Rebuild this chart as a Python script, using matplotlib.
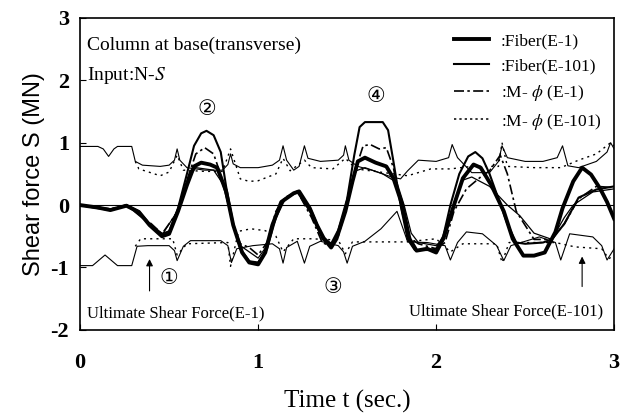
import matplotlib
matplotlib.use("Agg")
import matplotlib.pyplot as plt

# response curves: (time, shear force)
fiber_e1_t = [0, 0.1, 0.17, 0.26, 0.33, 0.39, 0.46, 0.5, 0.55, 0.6, 0.64, 0.68, 0.73, 0.77, 0.82, 0.86,
              0.91, 0.95, 1.0, 1.04, 1.08, 1.13, 1.2, 1.23, 1.29, 1.33, 1.37, 1.41, 1.44, 1.49, 1.53, 1.56,
              1.6, 1.66, 1.72, 1.76, 1.81, 1.85, 1.89, 1.95, 2.0, 2.04, 2.1, 2.15, 2.21, 2.25, 2.31, 2.38,
              2.43, 2.49, 2.55, 2.61, 2.67, 2.71, 2.77, 2.82, 2.87, 2.92, 2.96, 3.0]
fiber_e1_s = [0, -0.04, -0.08, -0.01, -0.11, -0.32, -0.5, -0.46, -0.1, 0.32, 0.62, 0.68, 0.65, 0.6, 0.22, -0.32,
              -0.76, -0.92, -0.95, -0.76, -0.32, 0.05, 0.19, 0.22, -0.05, -0.32, -0.54, -0.68, -0.54, -0.1, 0.38, 0.7,
              0.76, 0.68, 0.62, 0.43, 0, -0.54, -0.73, -0.7, -0.76, -0.54, 0, 0.43, 0.65, 0.6, 0.32, -0.1,
              -0.54, -0.81, -0.81, -0.76, -0.43, -0.05, 0.38, 0.6, 0.49, 0.27, 0.05, -0.22]

fiber_e101_t = [0, 0.1, 0.17, 0.26, 0.33, 0.39, 0.46, 0.5, 0.55, 0.6, 0.64, 0.68, 0.71, 0.75, 0.79, 0.82,
                0.86, 0.9, 0.95, 1.0, 1.05, 1.1, 1.15, 1.22, 1.3, 1.36, 1.41, 1.45, 1.5, 1.54, 1.57, 1.6,
                1.66, 1.7, 1.73, 1.76, 1.8, 1.84, 1.88, 1.95, 2.0, 2.04, 2.08, 2.13, 2.18, 2.22, 2.26, 2.3,
                2.35, 2.4, 2.45, 2.5, 2.6, 2.65, 2.72, 2.8, 2.9, 3.0]
fiber_e101_s = [0, -0.05, -0.08, 0, -0.1, -0.3, -0.46, -0.42, -0.05, 0.5, 0.95, 1.15, 1.19, 1.12, 0.85, 0.3,
                -0.3, -0.7, -0.9, -0.92, -0.7, -0.2, 0.1, 0.22, -0.1, -0.5, -0.62, -0.4, 0.1, 0.8, 1.25, 1.33,
                1.33, 1.33, 1.2, 0.7, 0, -0.55, -0.72, -0.72, -0.7, -0.5, 0, 0.5, 0.78, 0.85, 0.75, 0.5,
                0.1, -0.3, -0.6, -0.62, -0.6, -0.55, -0.3, 0.12, 0.25, 0.3]

mphi_e1_t = [0, 0.17, 0.26, 0.4, 0.46, 0.55, 0.6, 0.65, 0.7, 0.75, 0.8, 0.86, 0.9, 0.95, 1.0, 1.05,
             1.1, 1.15, 1.22, 1.3, 1.36, 1.4, 1.45, 1.5, 1.55, 1.59, 1.63, 1.68, 1.72, 1.76, 1.8, 1.84,
             1.9, 2.0, 2.05, 2.1, 2.17, 2.25, 2.3, 2.36, 2.4, 2.45, 2.55, 2.65, 2.72, 2.8, 2.9, 3.0]
mphi_e1_s = [0, -0.06, 0, -0.3, -0.46, -0.1, 0.4, 0.82, 0.92, 0.82, 0.4, -0.3, -0.62, -0.68, -0.8, -0.6,
             -0.1, 0.12, 0.22, -0.2, -0.6, -0.65, -0.5, 0, 0.6, 0.95, 0.97, 0.9, 0.92, 0.6, 0, -0.5,
             -0.62, -0.7, -0.6, -0.1, 0.26, 0.45, 0.55, 0.8, 0.5, -0.1, -0.55, -0.55, -0.3, 0.1, 0.3, 0.28]

mphi_e101_t = [0, 0.17, 0.26, 0.4, 0.46, 0.55, 0.6, 0.65, 0.7, 0.75, 0.8, 0.86, 0.9, 1.0, 1.05, 1.1,
               1.15, 1.22, 1.3, 1.36, 1.41, 1.46, 1.5, 1.55, 1.6, 1.7, 1.78, 1.82, 1.86, 1.9, 2.0, 2.05,
               2.1, 2.15, 2.2, 2.3, 2.4, 2.47, 2.55, 2.65, 2.72, 2.77, 2.88, 3.0]
mphi_e101_s = [0, -0.07, 0, -0.33, -0.48, -0.08, 0.4, 0.6, 0.58, 0.56, 0.35, -0.3, -0.65, -0.85, -0.65, -0.15,
               0.1, 0.2, -0.15, -0.55, -0.66, -0.4, 0.1, 0.55, 0.6, 0.5, 0.36, 0, -0.45, -0.6, -0.65, -0.5,
               0, 0.4, 0.45, 0.3, 0, -0.17, -0.45, -0.55, -0.2, 0, 0.21, 0.26]

# ultimate shear force bounds
ub_e1_t = [0, 0.1, 0.13, 0.16, 0.19, 0.21, 0.29, 0.31, 0.35, 0.45, 0.5, 0.53, 0.545, 0.56, 0.6, 0.7,
           0.8, 0.83, 0.845, 0.86, 0.9, 1.0, 1.08, 1.12, 1.14, 1.16, 1.2, 1.23, 1.26, 1.28, 1.35, 1.45,
           1.48, 1.49, 1.51, 1.56, 1.65, 1.75, 1.8, 1.84, 1.9, 2.0, 2.07, 2.09, 2.12, 2.2, 2.3, 2.35,
           2.37, 2.4, 2.5, 2.6, 2.68, 2.71, 2.74, 2.8, 2.9, 2.96, 2.98, 3.0]
ub_e1_s = [0.94, 0.94, 0.9, 0.78, 0.9, 0.94, 0.94, 0.7, 0.64, 0.62, 0.64, 0.72, 0.9, 0.72, 0.6, 0.56,
           0.56, 0.65, 0.82, 0.66, 0.6, 0.6, 0.64, 0.72, 0.95, 0.72, 0.56, 0.62, 0.95, 0.75, 0.7, 0.72,
           0.8, 0.95, 0.72, 0.62, 0.55, 0.45, 0.42, 0.55, 0.72, 0.7, 0.76, 0.97, 0.76, 0.52, 0.52, 0.7,
           0.95, 0.76, 0.7, 0.7, 0.76, 0.95, 0.63, 0.6, 0.7, 0.85, 1.0, 0.9]

ub_e101_t = [0.31, 0.33, 0.45, 0.5, 0.545, 0.58, 0.7, 0.8, 0.845, 0.9, 0.95, 1.0, 1.1, 1.14, 1.18, 1.26,
             1.3, 1.42, 1.49, 1.55, 1.84, 1.97, 2.08, 2.2, 2.35, 2.37, 2.4, 2.55, 2.7, 2.8, 2.9, 2.98, 3.0]
ub_e101_s = [0.7, 0.58, 0.47, 0.53, 0.8, 0.56, 0.54, 0.54, 0.9, 0.42, 0.38, 0.39, 0.5, 0.75, 0.55, 0.72,
             0.6, 0.58, 0.75, 0.58, 0.47, 0.58, 0.58, 0.62, 0.62, 1.0, 0.62, 0.6, 0.6, 0.72, 0.82, 1.0, 0.95]

lb_e1_t = [0, 0.07, 0.14, 0.21, 0.29, 0.32, 0.38, 0.5, 0.53, 0.545, 0.58, 0.62, 0.79, 0.83, 0.85, 0.88,
           0.97, 1.08, 1.12, 1.14, 1.16, 1.22, 1.26, 1.29, 1.35, 1.45, 1.48, 1.5, 1.53, 1.6, 1.69, 1.78,
           1.84, 1.95, 2.05, 2.08, 2.12, 2.17, 2.26, 2.34, 2.38, 2.42, 2.58, 2.67, 2.7, 2.75, 2.88, 2.93,
           2.96, 3.0]
lb_e1_s = [-0.97, -0.97, -0.8, -0.97, -0.97, -0.66, -0.65, -0.65, -0.73, -0.89, -0.66, -0.57, -0.57, -0.65, -0.92, -0.7,
           -0.65, -0.62, -0.7, -0.93, -0.68, -0.58, -0.93, -0.66, -0.58, -0.65, -0.75, -0.93, -0.66, -0.58, -0.38, -0.1,
           -0.59, -0.6, -0.65, -0.88, -0.6, -0.43, -0.46, -0.65, -0.89, -0.65, -0.51, -0.6, -0.88, -0.46, -0.51, -0.65,
           -0.88, -0.7]

lb_e101_t = [0.31, 0.34, 0.52, 0.545, 0.6, 0.83, 0.845, 0.89, 0.96, 1.04, 1.1, 1.14, 1.2, 1.3, 1.45, 1.49,
             1.53, 1.83, 2.0, 2.08, 2.15, 2.34, 2.37, 2.41, 2.67, 2.78, 2.93, 2.97, 3.0]
lb_e101_s = [-0.66, -0.54, -0.54, -0.8, -0.62, -0.6, -0.98, -0.42, -0.38, -0.41, -0.5, -0.75, -0.54, -0.54, -0.56, -0.78,
             -0.59, -0.59, -0.54, -0.75, -0.62, -0.62, -0.92, -0.6, -0.6, -0.67, -0.7, -0.86, -0.8]

labels = [":Fiber(E-1)", ":Fiber(E-101)", r":M- $\phi$ (E-1)", r":M- $\phi$ (E-101)"]

serif = ["Liberation Serif", "DejaVu Serif"]
plt.rcParams["mathtext.fontset"] = "stix"
plt.rcParams["axes.unicode_minus"] = False

fig = plt.figure(figsize=(6.21, 4.16), dpi=100)
ax = fig.add_axes([0.129, 0.207, 0.86, 0.75])

# bounds
ax.plot(ub_e1_t, ub_e1_s, color="black", lw=0.8)
ax.plot(lb_e1_t, lb_e1_s, color="black", lw=0.8)
ax.plot(ub_e101_t, ub_e101_s, color="black", lw=1.0, ls=(0, (1.5, 3)))
ax.plot(lb_e101_t, lb_e101_s, color="black", lw=1.0, ls=(0, (1.5, 3)))

# responses
ax.plot(fiber_e1_t, fiber_e1_s, color="black", lw=2.8, label=labels[0])
ax.plot(fiber_e101_t, fiber_e101_s, color="black", lw=1.5, label=labels[1])
ax.plot(mphi_e1_t, mphi_e1_s, color="black", lw=1.2, ls=(0, (6, 2, 1.5, 2)), label=labels[2])
ax.plot(mphi_e101_t, mphi_e101_s, color="black", lw=0.9, label=labels[3])

ax.axhline(0, color="black", lw=0.8)

ax.set_xlim(0, 3)
ax.set_ylim(-2, 3)
ax.set_xticks([0, 1, 2, 3])
ax.set_yticks([-2, -1, 0, 1, 2, 3])
ax.tick_params(direction="in", length=4, width=0.8, labelsize=16)
ax.tick_params(axis="x", pad=17)
ax.tick_params(axis="y", pad=8)
for lab in ax.get_xticklabels() + ax.get_yticklabels():
    lab.set_fontfamily(serif)
    lab.set_fontweight("bold")
for sp in ax.spines.values():
    sp.set_linewidth(1.2)

ax.set_xlabel("Time t (sec.)", fontsize=18, family=serif, labelpad=12)
ax.set_ylabel("Shear force S (MN)", fontsize=17, family="Liberation Sans", labelpad=4)

leg = ax.legend(loc="upper right", bbox_to_anchor=(1.0, 0.99), frameon=False,
                prop={"family": serif, "size": 12.5}, handlelength=2.0, labelspacing=0.5,
                handletextpad=0.7, borderaxespad=0.3)
leg.get_lines()[3].set_linestyle((0, (1.5, 2)))
leg.get_lines()[3].set_linewidth(1.1)

ax.text(0.04, 2.56, "Column at base(transverse)", fontsize=14, family=serif, va="center")
ax.text(0.04, 2.08, "Input:N-$S$", fontsize=14, family=serif, va="center")

circ = ["Liberation Serif", "DejaVu Sans"]
ax.text(0.71, 1.52, "\u2461", fontsize=15, family=circ, ha="center", va="center")
ax.text(1.66, 1.72, "\u2463", fontsize=15, family=circ, ha="center", va="center")
ax.text(0.5, -1.2, "\u2460", fontsize=15, family=circ, ha="center", va="center")
ax.text(1.42, -1.33, "\u2462", fontsize=15, family=circ, ha="center", va="center")

ax.annotate("", xy=(0.39, -0.82), xytext=(0.39, -1.42),
            arrowprops=dict(arrowstyle="-|>", color="black", lw=0.8, mutation_scale=10))
ax.annotate("", xy=(2.82, -0.78), xytext=(2.82, -1.35),
            arrowprops=dict(arrowstyle="-|>", color="black", lw=0.8, mutation_scale=10))
ax.text(0.04, -1.73, "Ultimate Shear Force(E-1)", fontsize=12, family=serif, va="center")
ax.text(2.94, -1.7, "Ultimate Shear Force(E-101)", fontsize=12, family=serif, ha="right", va="center")

fig.savefig("out.png", dpi=100)
